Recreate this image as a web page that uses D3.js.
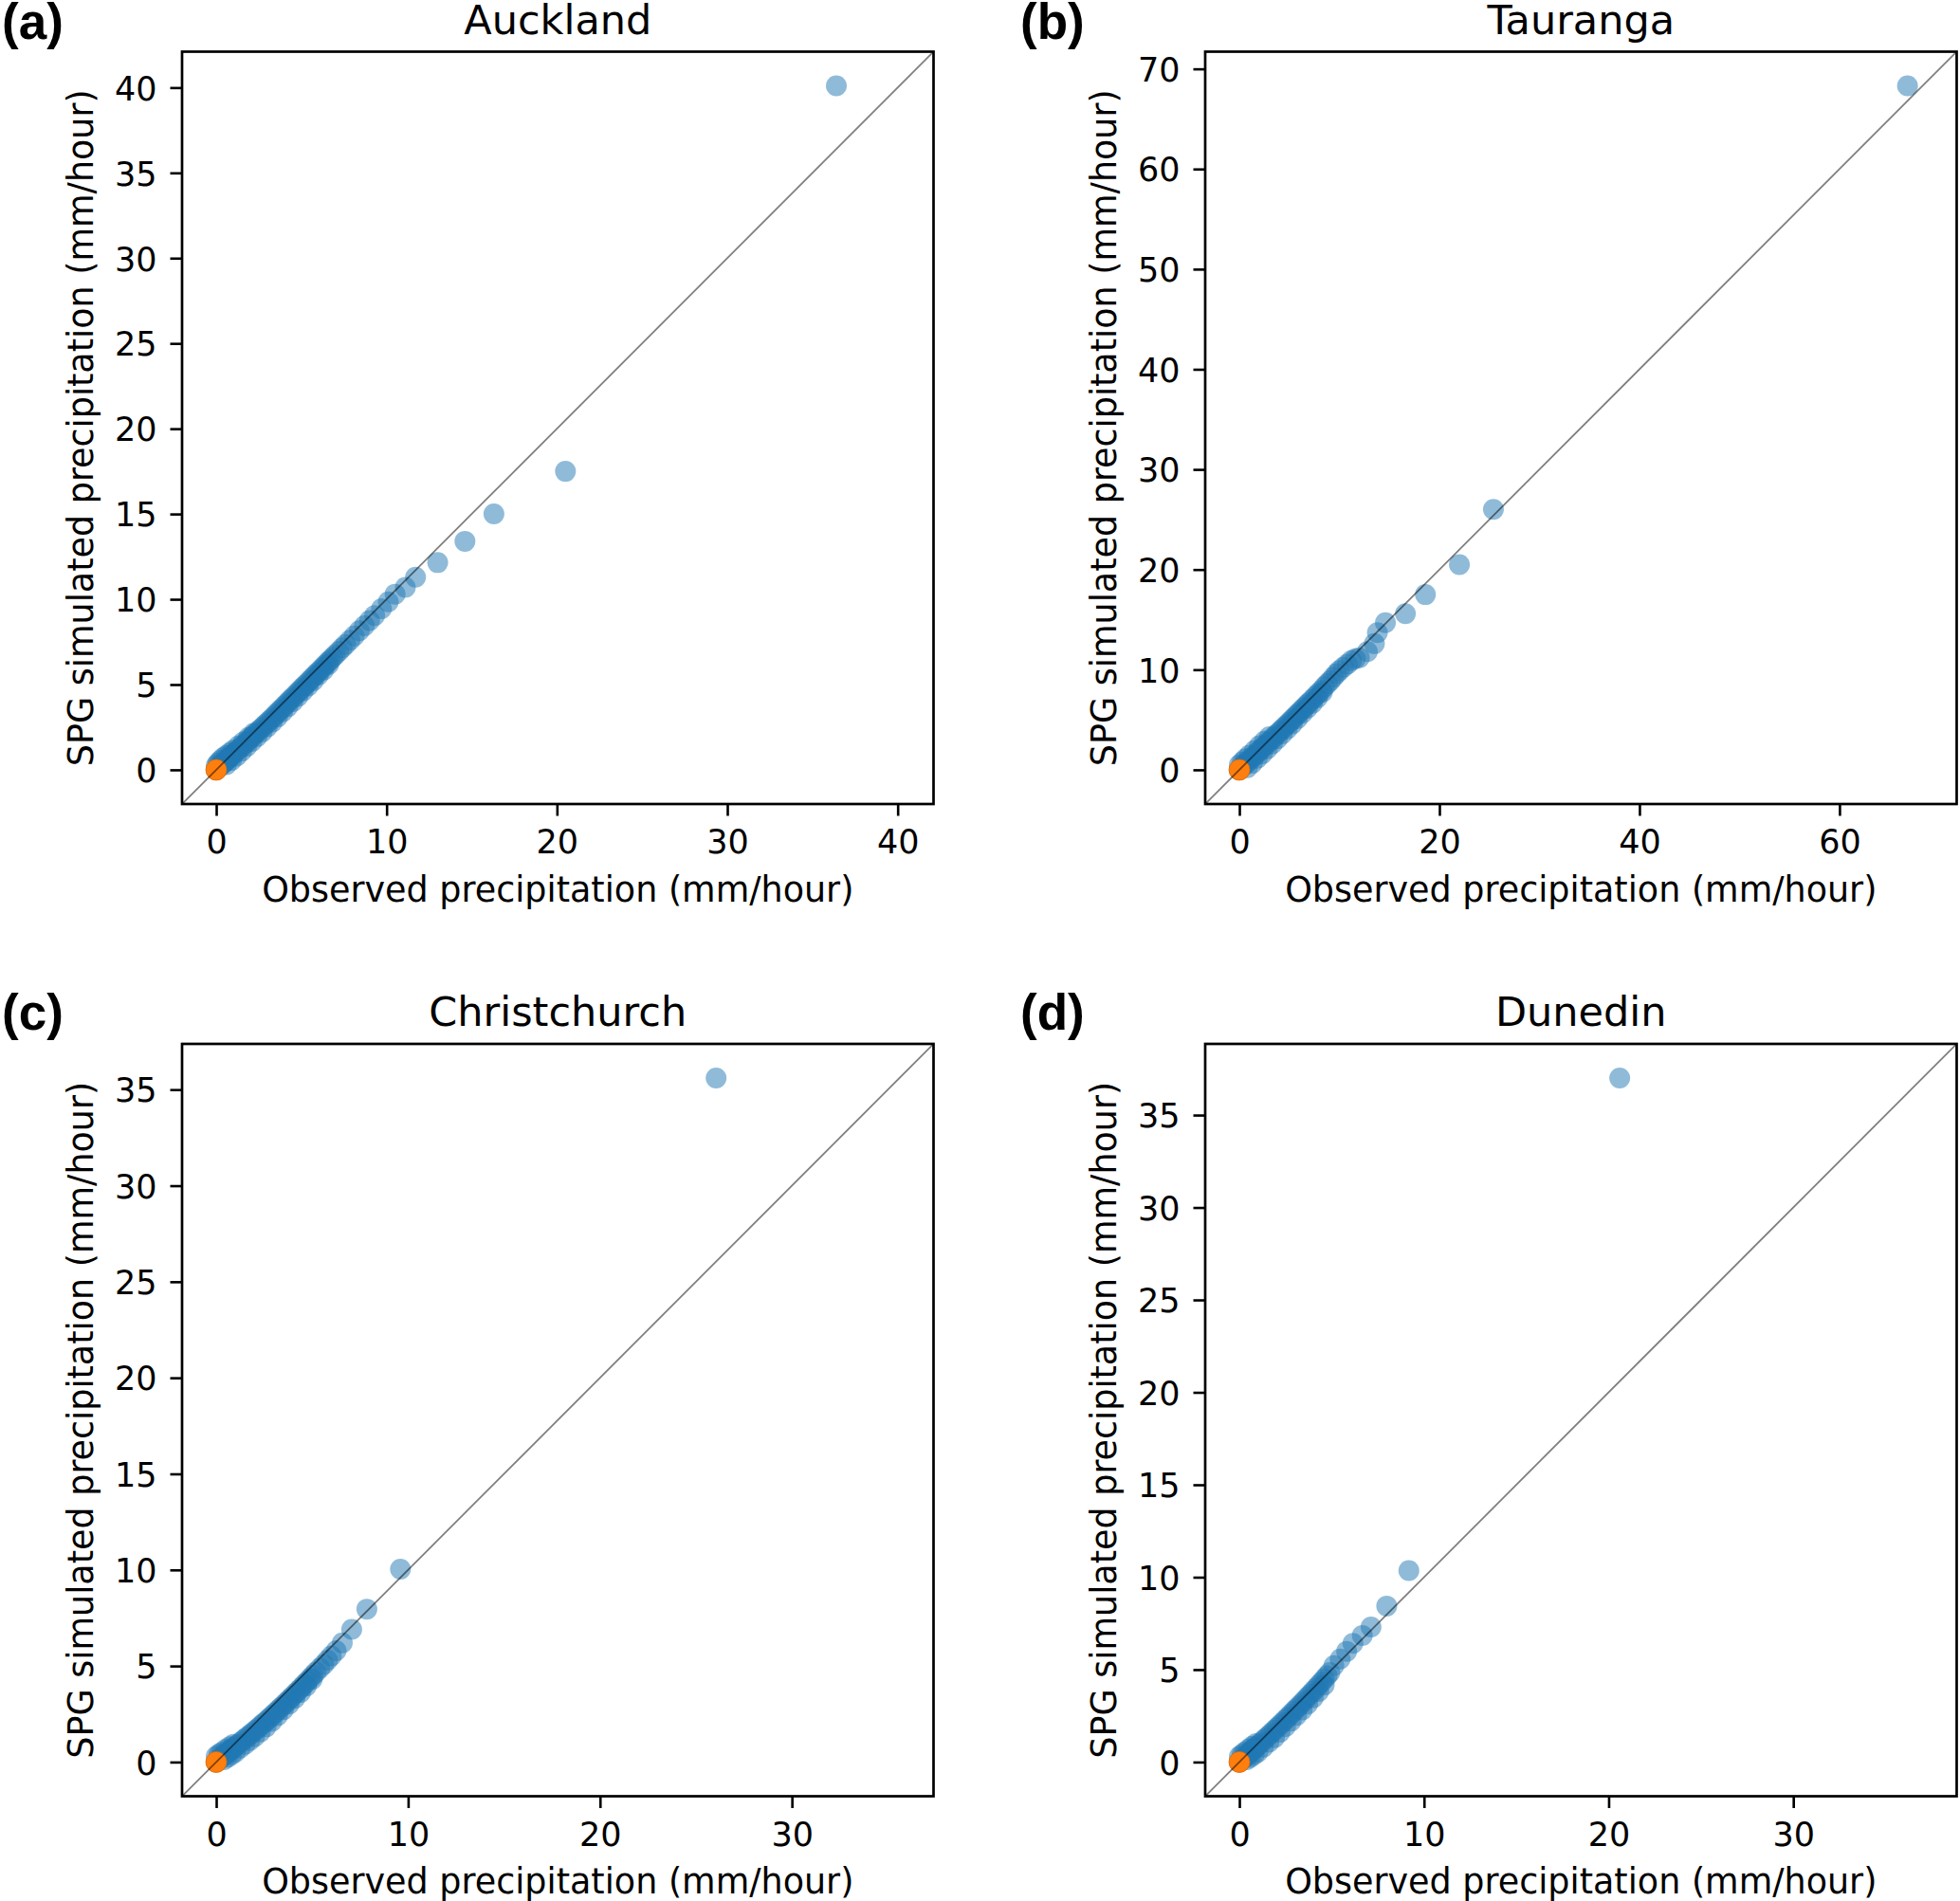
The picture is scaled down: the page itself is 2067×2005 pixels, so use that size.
<!DOCTYPE html>
<html>
<head>
<meta charset="utf-8">
<script src="https://cdn.jsdelivr.net/npm/d3@7"></script>
<style>
  html, body { margin: 0; padding: 0; background: #ffffff; }
  svg { display: block; }
</style>
</head>
<body>
<script>
// ---------------- DATA ----------------
const cities = ["Auckland", "Tauranga", "Christchurch", "Dunedin"];
const panelLetters = ["(a)", "(b)", "(c)", "(d)"];

// Auckland: observed vs SPG simulated quantiles (mm/hour)
const obsAuckland = [0.00,0.10,0.20,0.30,0.40,0.50,0.60,0.70,0.80,0.90,1.00,
  1.15,1.30,1.45,1.60,1.75,1.90,2.05,2.20,2.35,2.50,2.65,2.80,2.95,3.10,3.25,3.40,3.55,3.70,3.85,
  4.00,4.15,4.30,4.45,4.60,4.75,4.90,5.05,5.20,5.35,5.50,5.65,5.80,5.95,6.10,6.25,6.40,6.55,6.70,6.85,7.00,
  7.20,7.40,7.60,7.85,8.10,8.40,8.70,9.00,9.30,9.70,10.10,10.50,11.10,11.70,13.00,14.60,16.30,20.50,36.40];
const simAuckland = [0.00,0.10,0.19,0.28,0.37,0.46,0.55,0.64,0.73,0.82,0.91,
  1.05,1.18,1.32,1.46,1.60,1.74,1.88,2.02,2.16,2.30,2.44,2.58,2.72,2.86,
  3.00,3.15,3.30,3.45,3.60,3.75,3.90,4.05,4.20,4.35,4.50,4.65,4.80,4.95,5.10,5.25,5.40,5.55,5.70,5.85,6.00,6.15,6.30,6.45,6.60,6.75,
  6.95,7.15,7.35,7.60,7.85,8.15,8.45,8.75,9.05,9.45,9.85,10.30,10.70,11.30,12.15,13.40,15.00,17.50,40.10];
// spread of the dense band (other quantile pairs)
const obsAucklandSpread = [0.0,0.1,0.25,0.4,0.6,0.8,1.0,1.3,1.6,1.9,2.2,
  0.6,0.9,1.2,1.5,1.8,2.1,2.4,2.7,3.0,3.3,3.6,3.9,4.2,4.5,4.8,5.1,5.4,5.7,6.0,6.3,6.6];
const simAucklandSpread = [0.25,0.4,0.55,0.7,0.85,1.0,1.15,1.4,1.65,1.9,2.15,
  0.3,0.55,0.8,1.1,1.38,1.66,1.95,2.22,2.52,2.8,3.1,3.4,3.7,4.0,4.3,4.62,4.92,5.22,5.55,5.85,6.18];

// Tauranga
const obsTauranga = [0.0,0.25,0.5,0.75,1.0,1.25,1.5,1.75,2.0,2.25,2.5,2.75,3.0,3.25,3.5,3.75,4.0,4.25,4.5,4.75,
  5.0,5.25,5.5,5.75,6.0,6.25,6.5,6.75,7.0,7.3,7.6,7.9,8.2,8.5,8.8,9.1,9.4,9.7,10.0,
  10.4,10.8,11.2,11.6,12.0,12.8,13.5,13.8,14.6,16.6,18.6,22.0,25.4,66.8];
const simTauranga = [0.0,0.25,0.48,0.72,0.95,1.2,1.42,1.66,1.9,2.13,2.37,2.6,2.84,3.08,3.32,3.56,3.8,4.04,4.28,4.52,
  4.76,5.0,5.25,5.5,5.75,6.0,6.25,6.5,6.75,7.05,7.35,7.65,7.95,8.3,8.6,8.9,9.25,9.6,9.9,
  10.25,10.55,10.9,11.1,11.2,11.8,12.6,13.7,14.7,15.6,17.5,20.5,26.0,68.3];
const obsTaurangaSpread = [0.0,0.3,0.6,1.0,1.5,2.0,2.5,3.0,
  0.8,1.3,1.8,2.3,2.8,3.3,3.8,4.3,4.8,5.3,5.8,6.3,6.8,7.3,7.8,8.3];
const simTaurangaSpread = [0.5,0.8,1.1,1.45,1.9,2.4,2.85,3.3,
  0.2,0.65,1.15,1.6,2.1,2.6,3.1,3.6,4.1,4.6,5.1,5.65,6.15,6.65,7.2,7.75];

// Christchurch
const obsChristchurch = [0.0,0.1,0.2,0.3,0.4,0.5,0.6,0.7,0.8,0.9,1.0,
  1.15,1.3,1.45,1.6,1.75,1.9,2.05,2.2,2.35,2.5,2.65,2.8,2.95,3.1,3.25,3.4,3.55,3.7,3.85,4.0,4.15,4.3,4.45,4.6,4.75,4.9,5.05,
  5.2,5.4,5.6,5.8,6.0,6.25,6.57,7.06,7.85,9.6,26.05];
const simChristchurch = [0.0,0.09,0.18,0.26,0.34,0.42,0.5,0.58,0.66,0.74,0.82,
  0.94,1.06,1.18,1.3,1.42,1.54,1.66,1.79,1.92,2.05,2.18,2.31,2.45,2.59,2.73,2.87,3.01,3.15,3.3,3.45,3.6,3.75,3.9,4.05,4.2,4.36,4.52,
  4.68,4.88,5.08,5.3,5.52,5.8,6.2,6.91,7.96,10.04,35.6];
const obsChristchurchSpread = [0.0,0.15,0.3,0.5,0.7,0.9,
  0.4,0.6,0.8,1.0,1.25,1.5,1.75,2.0,2.3,2.6,2.9,3.2,3.5,3.8,4.1,4.4,4.7,5.0];
const simChristchurchSpread = [0.3,0.42,0.52,0.66,0.8,0.92,
  0.12,0.25,0.38,0.52,0.72,0.92,1.12,1.32,1.57,1.83,2.12,2.42,2.72,3.02,3.32,3.62,3.96,4.3];

// Dunedin
const obsDunedin = [0.0,0.1,0.2,0.3,0.4,0.5,0.6,0.7,0.8,0.9,1.0,
  1.15,1.3,1.45,1.6,1.75,1.9,2.05,2.2,2.35,2.5,2.65,2.8,2.95,3.1,3.25,3.4,3.55,3.7,3.85,4.0,4.15,4.3,4.45,4.6,4.75,4.9,
  5.12,5.46,5.81,6.15,6.66,7.13,7.98,9.18,20.6];
const simDunedin = [0.0,0.09,0.18,0.27,0.36,0.45,0.54,0.63,0.72,0.81,0.9,
  1.03,1.17,1.31,1.45,1.59,1.73,1.87,2.01,2.15,2.3,2.45,2.6,2.75,2.9,3.05,3.2,3.36,3.52,3.68,3.84,4.0,4.16,4.33,4.5,4.67,4.84,
  5.22,5.57,5.99,6.42,6.85,7.31,8.44,10.36,37.0];
const obsDunedinSpread = [0.0,0.15,0.3,0.5,0.7,0.9,
  0.4,0.6,0.8,1.0,1.3,1.6,1.9,2.2,2.5,2.8,3.1,3.4,3.7,4.0,4.3,4.6];
const simDunedinSpread = [0.3,0.42,0.55,0.7,0.85,1.0,
  0.12,0.25,0.4,0.54,0.8,1.07,1.32,1.62,1.92,2.22,2.52,2.82,3.14,3.47,3.82,4.17];

// Highlighted (orange) point at the origin in every panel
const originObs = [0];
const originSim = [0];

// Tick labels per panel
const xTicks = [[0,10,20,30,40],[0,20,40,60],[0,10,20,30],[0,10,20,30]];
const yTicks = [[0,5,10,15,20,25,30,35,40],[0,10,20,30,40,50,60,70],[0,5,10,15,20,25,30,35],[0,5,10,15,20,25,30,35]];

const obsSeries = [obsAuckland, obsTauranga, obsChristchurch, obsDunedin];
const simSeries = [simAuckland, simTauranga, simChristchurch, simDunedin];
const obsSpread = [obsAucklandSpread, obsTaurangaSpread, obsChristchurchSpread, obsDunedinSpread];
const simSpread = [simAucklandSpread, simTaurangaSpread, simChristchurchSpread, simDunedinSpread];

const xLabel = "Observed precipitation (mm/hour)";
const yLabel = "SPG simulated precipitation (mm/hour)";

// ---------------- LAYOUT ----------------
const W = 2067, H = 2005;
const plotW = 792.5, plotH = 793.5;
const origins = [[192, 54.5],[1271, 54.5],[192, 1101],[1271, 1101]];
const letterPos = [[2, 41],[1076, 41],[2, 1085.5],[1076, 1085.5]];
const blue = "#1f77b4", orange = "#ff7f0e";
const tickFont = 35, labelFont = 36.5, titleFont = 43;
const font = "'DejaVu Sans', sans-serif";

const svg = d3.select("body").append("svg")
  .attr("width", W).attr("height", H)
  .attr("viewBox", `0 0 ${W} ${H}`);
svg.append("rect").attr("width", W).attr("height", H).attr("fill", "#fff");

function pairs(a, b) {
  const n = Math.min(a.length, b.length);
  return d3.range(n).map(k => ({x: a[k], y: b[k]}));
}

cities.forEach((city, i) => {
  const obs = obsSeries[i], sim = simSeries[i];
  const pts = pairs(obsSpread[i], simSpread[i]).concat(pairs(obs, sim));
  const maxV = d3.max([d3.max(obs), d3.max(sim)]);
  const minV = d3.min([d3.min(obs), d3.min(sim)]);
  const pad = (maxV - minV) * 0.05;
  const dom = [minV - pad, maxV + pad];

  const [ox, oy] = origins[i];
  const g = svg.append("g").attr("transform", `translate(${ox},${oy})`);
  const x = d3.scaleLinear().domain(dom).range([0, plotW]);
  const y = d3.scaleLinear().domain(dom).range([plotH, 0]);

  const clipId = "clip" + i;
  g.append("clipPath").attr("id", clipId)
    .append("rect").attr("width", plotW).attr("height", plotH);
  const inner = g.append("g").attr("clip-path", `url(#${clipId})`);

  inner.selectAll("circle.pt").data(pts).join("circle")
    .attr("class", "pt")
    .attr("cx", d => x(d.x)).attr("cy", d => y(d.y))
    .attr("r", 11)
    .attr("fill", blue).attr("fill-opacity", 0.5);

  inner.selectAll("circle.origin").data(pairs(originObs, originSim)).join("circle")
    .attr("class", "origin")
    .attr("cx", d => x(d.x)).attr("cy", d => y(d.y))
    .attr("r", 11)
    .attr("fill", orange)
    .attr("stroke", "#d86a0a").attr("stroke-width", 0.8);

  // 1:1 line across full axis range
  inner.append("line")
    .attr("x1", x(dom[0])).attr("y1", y(dom[0]))
    .attr("x2", x(dom[1])).attr("y2", y(dom[1]))
    .attr("stroke", "#000").attr("stroke-opacity", 0.5).attr("stroke-width", 1.8);

  // axes
  const xAxis = d3.axisBottom(x).tickValues(xTicks[i]).tickSize(12.5).tickPadding(14).tickFormat(d3.format("d"));
  const yAxis = d3.axisLeft(y).tickValues(yTicks[i]).tickSize(12.5).tickPadding(14).tickFormat(d3.format("d"));

  const gx = g.append("g").attr("transform", `translate(0,${plotH})`).call(xAxis);
  const gy = g.append("g").call(yAxis);
  [gx, gy].forEach(a => {
    a.select(".domain").remove();
    a.selectAll(".tick line").attr("stroke", "#000").attr("stroke-width", 2.6);
    a.selectAll(".tick text").attr("font-family", font).attr("font-size", tickFont).attr("fill", "#000");
  });
  gx.selectAll(".tick text").attr("dy", null).attr("y", 12.5 + 14 + tickFont * 0.74);
  gy.selectAll(".tick text").attr("dy", null).attr("y", tickFont * 0.3645);

  // frame
  g.append("rect").attr("width", plotW).attr("height", plotH)
    .attr("fill", "none").attr("stroke", "#000").attr("stroke-width", 2.7);

  // title
  g.append("text").attr("x", plotW / 2).attr("y", -19)
    .attr("text-anchor", "middle").attr("font-family", font).attr("font-size", titleFont)
    .attr("fill", "#000").text(city);

  // axis labels
  g.append("text").attr("x", plotW / 2).attr("y", plotH + 102.5)
    .attr("text-anchor", "middle").attr("font-family", font).attr("font-size", labelFont)
    .attr("fill", "#000").text(xLabel);
  g.append("text")
    .attr("transform", `translate(-94,${plotH / 2}) rotate(-90)`)
    .attr("text-anchor", "middle").attr("font-family", font).attr("font-size", labelFont)
    .attr("fill", "#000").text(yLabel);

  // panel letter
  svg.append("text").attr("x", letterPos[i][0]).attr("y", letterPos[i][1])
    .attr("font-family", "'Liberation Sans', Arial, sans-serif").attr("font-weight", "bold")
    .attr("font-size", 53).attr("fill", "#000").text(panelLetters[i]);
});
</script>
</body>
</html>
